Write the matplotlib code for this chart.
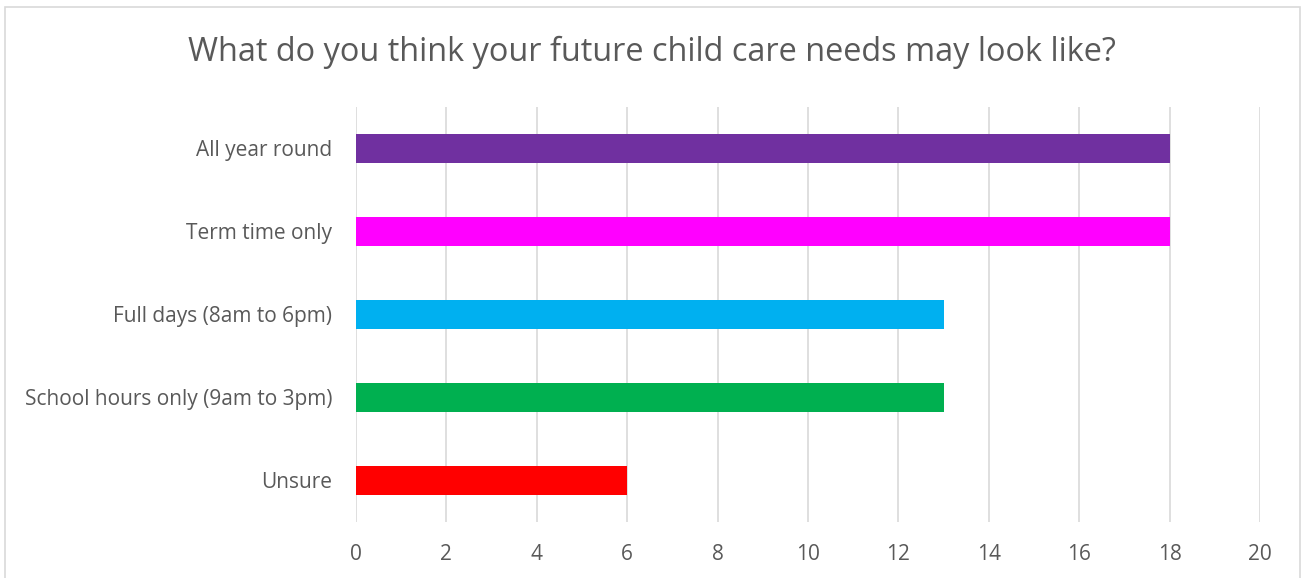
import matplotlib
matplotlib.use("Agg")
import matplotlib.pyplot as plt
from matplotlib.patches import Rectangle

# Dados
categorias = ["Unsure", "School hours only (9am to 3pm)", "Full days (8am to 6pm)",
              "Term time only", "All year round"]
valores = [6, 13, 13, 18, 18]
cores = ["#FF0000", "#00B050", "#00B0F0", "#FF00FF", "#7030A0"]
ticks_x = [0, 2, 4, 6, 8, 10, 12, 14, 16, 18, 20]
titulo = "What do you think your future child care needs may look like?"

plt.rcParams["font.family"] = ["Open Sans", "DejaVu Sans"]
cinza = "#595959"

W, H = 1303, 578
fig = plt.figure(figsize=(W / 100, H / 100), dpi=100)

# moldura do gráfico
fig.patches.append(Rectangle((4.5 / W, -0.1), (1300 - 4.5) / W, 1.1 - 7 / H,
                             transform=fig.transFigure, fill=False,
                             edgecolor="#D9D9D9", linewidth=1.2))

ax = fig.add_axes([356 / W, 1 - 522 / H, 904 / W, 415 / H])
ax.barh(range(len(categorias)), valores, height=0.36, color=cores, zorder=3)

ax.set_xlim(0, 20)
ax.set_ylim(-0.5, len(categorias) - 0.5)
ax.set_xticks(ticks_x)
ax.set_yticks(range(len(categorias)))
ax.set_yticklabels(categorias)
ax.grid(axis="x", color="#D9D9D9", linewidth=1.2, zorder=0)
for s in ax.spines.values():
    s.set_visible(False)
ax.tick_params(length=0, labelsize=15, colors=cinza)
ax.tick_params(axis="x", pad=16)
ax.tick_params(axis="y", pad=17)

fig.text(0.5, 1 - 52 / H, titulo, ha="center", va="center", fontsize=23.4, color=cinza)

fig.savefig("out.png", dpi=100)
